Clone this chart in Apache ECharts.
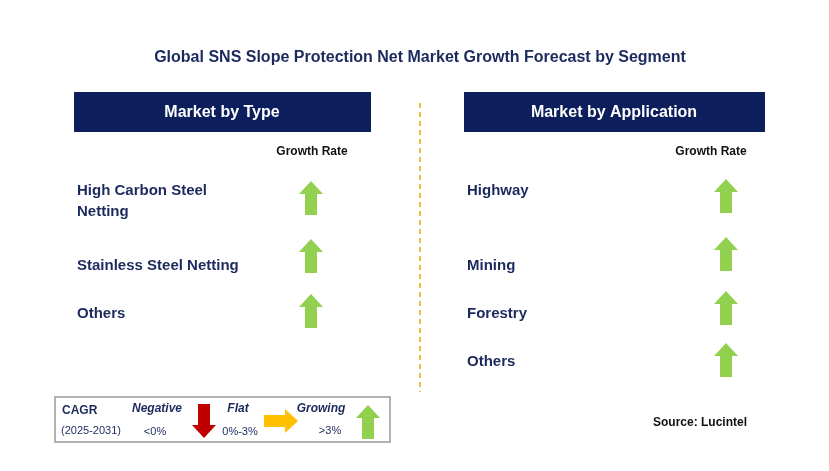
<!DOCTYPE html>
<html><head><meta charset="utf-8">
<script src="https://cdn.jsdelivr.net/npm/echarts@6/dist/echarts.min.js"></script>
<style>html,body{margin:0;padding:0;background:#fff}#c{width:829px;height:471px}</style>
</head><body><div id="c"></div>
<script>
const title = 'Global SNS Slope Protection Net Market Growth Forecast by Segment';
const typeCategories = ['High Carbon Steel\nNetting', 'Stainless Steel Netting', 'Others'];
const typeGrowth = ['growing', 'growing', 'growing'];
const appCategories = ['Highway', 'Mining', 'Forestry', 'Others'];
const appGrowth = ['growing', 'growing', 'growing', 'growing'];
const legendLabels = ['Negative', 'Flat', 'Growing'];
const legendRanges = ['<0%', '0%-3%', '>3%'];

const navy = '#0c1f5c';
const textNavy = '#1b2a5c';
const green = '#92d050';
const F = 'Liberation Sans, Arial, sans-serif';

function upArrow(cx, cy, color) {
  return {type:'polygon', shape:{points:[[cx,cy-17],[cx+12,cy-4],[cx+6,cy-4],[cx+6,cy+17],[cx-6,cy+17],[cx-6,cy-4],[cx-12,cy-4]]}, style:{fill:color}};
}
function downArrow(cx, cy, color) {
  return {type:'polygon', shape:{points:[[cx,cy+17],[cx+12,cy+4],[cx+6,cy+4],[cx+6,cy-17],[cx-6,cy-17],[cx-6,cy+4],[cx-12,cy+4]]}, style:{fill:color}};
}
function rightArrow(cx, cy, color) {
  return {type:'polygon', shape:{points:[[cx+17,cy],[cx+4,cy-12],[cx+4,cy-6],[cx-17,cy-6],[cx-17,cy+6],[cx+4,cy+6],[cx+4,cy+12]]}, style:{fill:color}};
}
function arrowFor(s, cx, cy) {
  if (s === 'growing') return upArrow(cx, cy, green);
  if (s === 'flat') return rightArrow(cx, cy, '#ffc000');
  return downArrow(cx, cy, '#c00000');
}
function txt(x, y, t, o) {
  return Object.assign({type:'text', x:x, y:y, style:Object.assign({text:t, font:'bold 15px '+F, fill:textNavy, textVerticalAlign:'middle'}, o||{})});
}

const g = [];
g.push(txt(420, 58, title, {textAlign:'center', font:'bold 16px '+F}));
g.push({type:'rect', shape:{x:74,y:92,width:297,height:40}, style:{fill:navy}});
g.push({type:'rect', shape:{x:464,y:92,width:301,height:40}, style:{fill:navy}});
g.push(txt(222, 113, 'Market by Type', {textAlign:'center', fill:'#fff', font:'bold 16px '+F}));
g.push(txt(614, 113, 'Market by Application', {textAlign:'center', fill:'#fff', font:'bold 16px '+F}));
g.push({type:'line', shape:{x1:420,y1:103,x2:420,y2:392}, style:{stroke:'#f0a800', lineWidth:1.5, lineDash:[5,4]}});
g.push(txt(312, 152, 'Growth Rate', {textAlign:'center', fill:'#111', font:'bold 12px '+F}));
g.push(txt(711, 152, 'Growth Rate', {textAlign:'center', fill:'#111', font:'bold 12px '+F}));

const typeY = [201, 266, 314];
const typeArrowY = [198, 256, 311];
typeCategories.forEach((c, i) => {
  g.push(txt(77, typeY[i], c, {lineHeight:21}));
  g.push(arrowFor(typeGrowth[i], 311, typeArrowY[i]));
});
const appY = [191, 266, 314, 362];
const appArrowY = [196, 254, 308, 360];
appCategories.forEach((c, i) => {
  g.push(txt(467, appY[i], c));
  g.push(arrowFor(appGrowth[i], 726, appArrowY[i]));
});

g.push({type:'rect', shape:{x:55,y:397,width:335,height:45}, style:{fill:'#fff', stroke:'#999', lineWidth:1.5}});
g.push(txt(62, 411, 'CAGR', {font:'bold 12px '+F}));
g.push(txt(61, 431, '(2025-2031)', {font:'11px '+F}));
g.push(txt(157, 409, legendLabels[0], {textAlign:'center', font:'italic bold 12px '+F}));
g.push(txt(155, 432, legendRanges[0], {textAlign:'center', font:'11px '+F}));
g.push(downArrow(204, 421, '#c00000'));
g.push(txt(238, 409, legendLabels[1], {textAlign:'center', font:'italic bold 12px '+F}));
g.push(txt(240, 432, legendRanges[1], {textAlign:'center', font:'11px '+F}));
g.push(rightArrow(281, 421, '#ffc000'));
g.push(txt(321, 409, legendLabels[2], {textAlign:'center', font:'italic bold 12px '+F}));
g.push(txt(330, 431, legendRanges[2], {textAlign:'center', font:'11px '+F}));
g.push(upArrow(368, 422, green));

g.push(txt(700, 423, 'Source: Lucintel', {textAlign:'center', fill:'#111', font:'bold 12px '+F}));

const chart = echarts.init(document.getElementById('c'));
chart.setOption({backgroundColor:'#fff', graphic:g});
</script></body></html>
